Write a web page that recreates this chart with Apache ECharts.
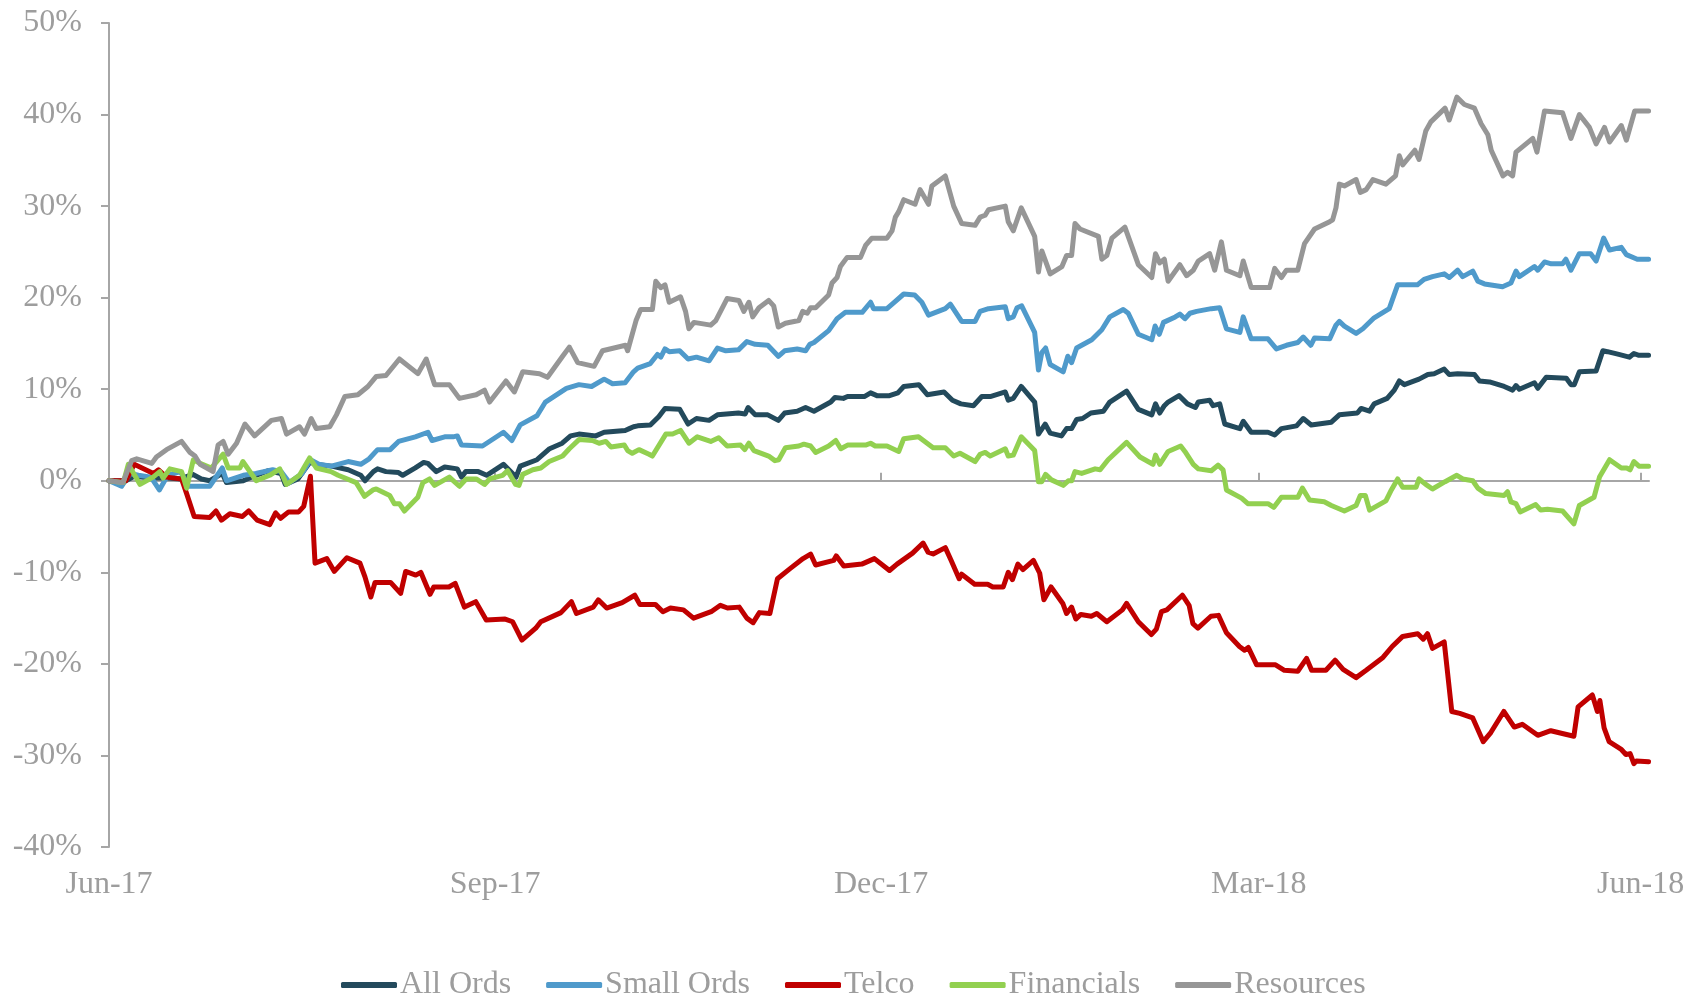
<!DOCTYPE html>
<html>
<head>
<meta charset="utf-8">
<title>Index performance Jun-17 to Jun-18</title>
<script src="https://cdn.jsdelivr.net/npm/echarts@6/dist/echarts.min.js"></script>
<style>
  html, body { margin: 0; padding: 0; background: #fff; }
  #chart { width: 1695px; height: 997px; }
</style>
</head>
<body>
<div id="chart"></div>
<script>
// x = days counted from 30 Jun 2017, y = cumulative return in %
const tickDays = [0, 92, 184, 274, 365];
const tickLabels = ['Jun-17', 'Sep-17', 'Dec-17', 'Mar-18', 'Jun-18'];

const allOrds = [[0,0],[4,0],[6,0.5],[10,0.3],[14,0.3],[17,0.2],[20,0.7],[22,0.2],[24,0],[27,0.8],[28,-0.2],[32,0],[35,0.6],[38,1.1],[41,0.8],[42,-0.4],[45,0.2],[48,2.1],[49,1.8],[53,1.6],[57,1.2],[60,0.6],[61,0],[63,1.0],[64,1.3],[66,1.0],[69,0.9],[70,0.6],[73,1.4],[75,2.0],[76,1.9],[78,1.0],[80,1.5],[83,1.3],[84,0.4],[85,1.0],[88,1.0],[90,0.6],[92,1.2],[94,1.8],[97,0.4],[98,1.6],[102,2.3],[105,3.5],[108,4.1],[110,4.9],[112,5.1],[116,4.9],[118,5.3],[123,5.5],[124,5.7],[125,5.9],[126,6.0],[129,6.1],[131,7.0],[132.5,7.9],[136,7.8],[138,6.2],[140,6.8],[143,6.6],[145,7.2],[150,7.4],[151.6,7.3],[152.3,8.0],[154,7.2],[157,7.2],[159.5,6.6],[161,7.4],[164,7.6],[166,8.0],[168,7.6],[172,8.6],[173,9.1],[175,9.0],[176,9.2],[180,9.2],[181.5,9.6],[183,9.3],[186,9.3],[188,9.6],[189.4,10.3],[193,10.5],[195,9.4],[199,9.7],[201,8.8],[203,8.4],[206,8.2],[208,9.2],[210,9.2],[213.6,9.7],[214.3,8.8],[215.5,9.0],[217.4,10.3],[220.6,8.6],[221.5,5.1],[223.1,6.2],[224.3,5.2],[227,4.9],[228.2,5.7],[229.4,5.7],[230.6,6.7],[232,6.8],[234,7.4],[237,7.6],[238.5,8.6],[242.5,9.8],[245.3,7.8],[248.5,7.2],[249.4,8.4],[250.4,7.4],[251.5,8.2],[252.4,8.6],[255,9.3],[257,8.4],[258.9,8.0],[259.6,8.6],[262.3,8.8],[263.1,8.2],[264.7,8.4],[265.9,6.2],[269.5,5.7],[270.3,6.5],[272.2,5.3],[276.2,5.3],[277.8,5.0],[279.4,5.7],[283,6.0],[284.6,6.8],[286.5,6.1],[291.3,6.4],[293.2,7.2],[297.5,7.4],[298.4,7.9],[300.4,7.6],[301.5,8.4],[304.6,9.0],[306.3,9.9],[307.5,10.9],[308.7,10.5],[312.2,11.1],[314.3,11.6],[315.8,11.7],[318.2,12.2],[319.4,11.6],[321.4,11.7],[325.4,11.6],[326.6,10.9],[329,10.8],[332.5,10.3],[334.5,9.9],[335.3,10.4],[336.1,10.0],[339.7,10.7],[340.5,10.1],[342.5,11.3],[347.3,11.2],[348.4,10.5],[349.2,10.5],[350.4,11.9],[354.4,12.0],[356,14.2],[357.1,14.1],[359.8,13.8],[362.3,13.5],[363.4,13.9],[364.6,13.7],[366.9,13.7]];

const smallOrds = [[0,0],[3,-0.6],[5,0.8],[7,0.6],[10,0.4],[12,-1.0],[14,0.6],[17,1.0],[19,-0.6],[24,-0.6],[27,1.4],[28,0],[32,0.6],[35,0.8],[39,1.2],[41,1.0],[43,-0.2],[46,0.8],[48,2.3],[50,1.8],[53,1.6],[57,2.1],[60,1.8],[62,2.4],[64,3.4],[67,3.4],[69,4.3],[73,4.8],[76,5.3],[77,4.4],[80,4.8],[82,4.8],[83,4.9],[84,3.9],[89,3.8],[94,5.3],[96,4.4],[98,6.1],[102,7.1],[104,8.6],[109,10.1],[112,10.5],[115,10.3],[118,11.1],[120,10.6],[123,10.7],[125,11.9],[126,12.3],[129,12.8],[130.7,13.8],[131.5,13.5],[132.5,14.4],[133.5,14.1],[136,14.2],[138,13.3],[140,13.5],[143,13.1],[145,14.5],[147,14.2],[150,14.3],[152,15.2],[154,14.9],[157,14.8],[159.5,13.6],[161,14.2],[164,14.4],[166,14.2],[167,14.9],[168,15.1],[171.5,16.4],[173.5,17.7],[175.5,18.4],[179.5,18.4],[181.5,19.5],[182.2,18.8],[185.4,18.8],[187.4,19.6],[189.4,20.4],[192,20.3],[193.7,19.5],[195.3,18.1],[199.3,18.8],[200.5,19.3],[203.2,17.4],[206.4,17.4],[207.6,18.5],[209.6,18.8],[213.6,19.0],[214.3,17.7],[215.5,17.9],[216.4,18.9],[217.5,19.1],[220.6,16.2],[221.5,12.1],[222.3,14.0],[223.2,14.5],[224.3,12.7],[227.4,11.9],[228.5,13.6],[229.4,12.9],[230.6,14.5],[234.2,15.4],[236.6,16.5],[238.5,17.9],[241.7,18.7],[242.9,18.3],[245.3,16.0],[248.5,15.4],[249.3,16.9],[250.3,16.0],[251.3,17.3],[254.1,17.9],[255.2,18.2],[256.4,17.7],[257.6,18.3],[259.2,18.5],[262.7,18.8],[264.7,18.9],[266.3,16.6],[269.5,16.2],[270.3,17.9],[272.2,15.5],[276.2,15.5],[278.2,14.4],[280.6,14.8],[283.3,15.1],[284.6,15.7],[286.4,14.8],[287.3,15.6],[290.9,15.5],[292.4,17.0],[293.2,17.4],[294.4,16.9],[297.2,16.1],[298.8,16.6],[301.5,17.8],[305.1,18.8],[307.1,21.4],[311.8,21.4],[313.4,22.0],[315.4,22.3],[318.2,22.6],[319.4,22.2],[321.4,23.0],[322.6,22.3],[325,22.9],[326.2,21.8],[327.8,21.5],[332.1,21.2],[334.1,21.6],[335.3,22.9],[336.1,22.3],[339.7,23.4],[340.5,23.0],[342.1,23.9],[343.7,23.7],[346.4,23.7],[347.2,24.2],[348.4,23.0],[350.4,24.8],[353.1,24.8],[354.4,24.0],[356.2,26.5],[357.6,25.2],[360.4,25.5],[361.6,24.7],[364.2,24.2],[366.9,24.2]];

const telco = [[0,0],[4,0],[6,1.8],[10.6,0.8],[11.8,1.2],[13.7,0.4],[17.3,0.2],[18.5,-1.4],[20.3,-3.9],[24,-4.0],[25.5,-3.3],[26.8,-4.3],[28.8,-3.6],[31.8,-3.9],[33.3,-3.3],[35.3,-4.3],[38.3,-4.8],[39.7,-3.5],[40.9,-4.1],[42.8,-3.4],[45.2,-3.4],[46.4,-2.8],[48,0.5],[49.1,-9.0],[51.9,-8.5],[53.7,-9.9],[56.7,-8.4],[59.8,-9.0],[61,-10.5],[62.4,-12.7],[63.4,-11.1],[67.1,-11.1],[69.5,-12.3],[70.7,-9.9],[73.1,-10.3],[74.3,-10.0],[76.5,-12.4],[77.4,-11.6],[81,-11.6],[82.5,-11.2],[84.7,-13.8],[87.4,-13.2],[89.9,-15.2],[94.4,-15.1],[96.2,-15.4],[98.4,-17.4],[101.7,-16.1],[102.9,-15.4],[107.7,-14.4],[110.2,-13.2],[111.4,-14.5],[115.4,-13.8],[116.6,-13.0],[118.6,-13.9],[122.3,-13.3],[125.3,-12.5],[126.5,-13.5],[130.2,-13.5],[132,-14.3],[133.8,-13.9],[136.9,-14.1],[139.3,-15.0],[143.5,-14.3],[145.7,-13.6],[147.4,-13.9],[150.2,-13.8],[152,-15.0],[153.5,-15.5],[155,-14.4],[157.5,-14.5],[159.3,-10.7],[162.3,-9.6],[165.4,-8.5],[167.2,-8.0],[168.4,-9.2],[172.7,-8.7],[173.3,-8.2],[175.1,-9.3],[179.4,-9.1],[182.4,-8.5],[186,-9.8],[187.8,-9.1],[191.5,-7.9],[194,-6.8],[195.2,-7.8],[196.4,-8.0],[199.3,-7.3],[200.7,-8.7],[202.6,-10.7],[203.2,-10.2],[206.3,-11.3],[209.4,-11.3],[210.6,-11.6],[213.1,-11.6],[214.3,-10.0],[215.3,-10.8],[216.6,-9.1],[217.8,-9.7],[220.3,-8.7],[221.8,-10.1],[222.8,-13.0],[224.5,-11.6],[227.3,-13.4],[228.2,-14.5],[229.4,-13.8],[230.4,-15.1],[231.6,-14.6],[234.1,-14.8],[235.4,-14.5],[237.8,-15.4],[241.5,-14.1],[242.5,-13.4],[245.3,-15.4],[248.4,-16.8],[249.6,-16.2],[250.8,-14.3],[252.1,-14.1],[255.8,-12.5],[257.4,-13.6],[258.3,-15.6],[259.5,-16.1],[262.6,-14.8],[264.4,-14.7],[266.3,-16.6],[269.4,-18.1],[270.6,-18.5],[271.5,-18.2],[273.5,-20.1],[278,-20.1],[280.1,-20.7],[283.3,-20.8],[285.4,-19.4],[286.6,-20.7],[290,-20.7],[292.2,-19.6],[294.1,-20.6],[297.2,-21.5],[299.6,-20.7],[303.6,-19.3],[305.8,-18.1],[308.3,-17.0],[311.9,-16.7],[313.2,-17.3],[314.2,-16.7],[315.4,-18.3],[318.2,-17.6],[320,-25.2],[321.9,-25.4],[325,-25.9],[327.5,-28.5],[329.3,-27.5],[332.4,-25.2],[334.9,-26.9],[336.8,-26.6],[340.5,-27.8],[343.6,-27.3],[349.1,-27.9],[350.1,-24.7],[353.5,-23.4],[354.7,-25.2],[355.3,-24.0],[356.3,-27.0],[357.5,-28.5],[360.3,-29.3],[361.5,-29.9],[362.5,-29.8],[363.4,-30.9],[364,-30.6],[366.9,-30.7]];

const financials = [[0,0],[3.4,-0.2],[4.6,1.8],[7.4,-0.4],[10.5,0.4],[12.1,1.0],[12.9,0.3],[14.5,1.3],[17.3,1.0],[18.5,-0.8],[20.1,2.3],[21.7,1.9],[24.4,1.4],[27.2,2.9],[28.4,1.4],[31.2,1.4],[31.9,2.1],[35.1,0],[38.3,0.6],[40.7,1.3],[42.3,-0.4],[45.4,0.6],[47.8,2.5],[49.4,1.4],[52.9,1.0],[54.6,0.6],[58.9,-0.2],[60.9,-1.7],[62.9,-1.0],[63.7,-0.9],[66.9,-1.6],[68,-2.5],[69.2,-2.5],[70.4,-3.3],[73.6,-1.8],[74.8,-0.2],[76.4,0.2],[77.6,-0.5],[81.1,0.4],[83.5,-0.6],[85.1,0.2],[87.5,0.2],[89.5,-0.4],[90.7,0.2],[93.8,0.6],[95,1.1],[96.9,-0.4],[97.7,-0.5],[98.6,0.7],[101,1.2],[102.9,1.4],[104.9,2.1],[108.1,2.7],[109.7,3.5],[112,4.5],[115.2,4.4],[116.8,4.1],[118.4,4.3],[119.6,3.7],[122.8,3.9],[123.6,3.3],[124.7,3.0],[126.3,3.4],[128.7,2.9],[129.5,2.7],[132.7,5.1],[134.3,5.1],[136.2,5.5],[138.2,4.1],[140.2,4.8],[143.4,4.3],[145.3,4.7],[147.3,3.8],[150.5,3.9],[151.5,3.4],[152.5,4.1],[153.7,3.3],[157.2,2.7],[158.7,2.2],[159.6,2.3],[161.2,3.6],[164.4,3.8],[165.6,4.0],[167.2,3.8],[168.4,3.1],[171.5,3.8],[173.2,4.4],[174.4,3.5],[176,3.9],[180.3,3.9],[181.5,4.1],[182.6,3.8],[185.4,3.8],[188.2,3.2],[189.4,4.6],[192.9,4.8],[196.4,3.6],[199.3,3.6],[201.3,2.7],[202.8,3.0],[206.4,2.1],[207.6,2.9],[208.8,3.1],[210,2.7],[213.6,3.5],[214.3,2.7],[215.5,2.8],[217.4,4.8],[220.6,3.3],[221.5,-0.1],[222.3,-0.1],[223.2,0.7],[224.6,0.1],[227.4,-0.5],[228.6,0],[229.4,0],[230.2,1.0],[231.8,0.8],[235,1.3],[236.2,1.2],[238.1,2.3],[242.5,4.2],[245.7,2.6],[248.8,1.8],[249.4,2.8],[250.4,1.8],[252.4,3.2],[255.4,3.8],[256.4,3.2],[258.4,1.8],[259.6,1.3],[262.7,1.1],[264.3,1.7],[265.5,1.2],[266.3,-1.0],[269.9,-1.9],[271.4,-2.5],[276.2,-2.5],[277.6,-2.9],[279.4,-1.8],[283.3,-1.8],[284.4,-0.8],[286.1,-2.1],[289.6,-2.3],[291.3,-2.7],[294.4,-3.3],[297.2,-2.7],[298.2,-1.6],[299.4,-1.6],[300.4,-3.2],[304.3,-2.2],[305.6,-1.0],[307.1,0.2],[308.3,-0.7],[311.5,-0.7],[312.2,0.2],[313.8,-0.4],[315.4,-0.9],[318.4,-0.1],[321.2,0.6],[322.6,0.2],[325,0],[326.2,-0.8],[328.1,-1.4],[332.5,-1.6],[333.3,-1.2],[334.1,-2.3],[335.3,-2.5],[336.3,-3.4],[340,-2.6],[341.2,-3.2],[342.8,-3.1],[346.4,-3.3],[349.1,-4.7],[350.4,-2.7],[353.9,-1.8],[355.2,0.4],[357.6,2.3],[360.4,1.4],[361.7,1.4],[362.5,1.2],[363.4,2.1],[364.6,1.6],[366.9,1.6]];

const resources = [[0,0],[3.3,-0.2],[5.4,2.2],[6.6,2.4],[10.2,1.9],[11.3,2.6],[13.7,3.4],[17.3,4.3],[19.3,3.1],[20.5,2.7],[21.7,1.8],[24.8,1.0],[26,3.9],[27.2,4.3],[28.4,2.9],[30.4,4.1],[32.4,6.2],[34.7,4.9],[38.7,6.6],[41.1,6.8],[42.3,5.1],[45.4,5.9],[46.6,5.1],[48.2,6.8],[49.4,5.7],[52.6,5.9],[54.2,7.2],[56.2,9.2],[59.3,9.4],[61.7,10.3],[63.7,11.4],[66,11.5],[69.2,13.3],[73.6,11.7],[75.6,13.3],[77.6,10.5],[81.1,10.5],[83.5,9.0],[87.5,9.4],[89.5,9.9],[90.7,8.6],[94.6,10.9],[96.6,9.7],[98.6,11.9],[102.6,11.7],[104.5,11.3],[108.1,13.6],[109.7,14.6],[111.7,12.9],[115.6,12.5],[117.6,14.2],[123.1,14.8],[123.6,14.2],[125.6,17.5],[126.7,18.7],[129.5,18.7],[130.3,21.8],[131.5,21.1],[132.5,21.4],[133.5,19.5],[136.2,20.1],[137.4,18.5],[138.2,16.6],[139.4,17.3],[143.4,17.0],[144.6,17.5],[147.3,19.9],[150.1,19.7],[151.3,18.5],[152.5,19.5],[153.4,17.9],[154.9,18.9],[157.2,19.7],[158.4,19.1],[159.5,16.8],[161.2,17.2],[164.4,17.5],[165.3,18.5],[166.4,18.3],[167.2,18.9],[168.4,18.9],[171.5,20.3],[172.3,21.6],[173.5,22.2],[174.3,23.4],[175.9,24.4],[179.1,24.4],[180.3,25.7],[181.8,26.5],[185.4,26.5],[186.6,27.3],[187.4,28.8],[188.2,29.4],[189.4,30.7],[192.1,30.2],[193.3,31.8],[195.3,30.2],[196.1,32.2],[199.3,33.3],[201.3,30.0],[203.2,28.1],[206.4,27.9],[207.6,28.8],[208.8,29.0],[209.6,29.6],[213.6,30.0],[214.3,28.3],[215.5,27.3],[217.4,29.8],[220.6,26.7],[221.5,22.8],[222.3,25.1],[224.3,22.6],[227.1,23.4],[228.2,24.6],[229.4,24.6],[230.2,28.1],[231.4,27.5],[235.8,26.7],[236.6,24.2],[237.8,24.6],[239,26.5],[242.1,27.7],[245.3,23.6],[248.5,22.2],[249.4,24.8],[250.4,23.8],[251.5,24.2],[252.4,21.8],[255.2,23.6],[256.8,22.4],[258.4,23.0],[259.6,24.0],[262.3,24.8],[263.5,23.0],[265.1,26.1],[266.3,23.0],[269.5,22.4],[270.3,24.0],[272.2,21.1],[276.6,21.1],[277.8,23.2],[279.4,22.2],[280.6,23.0],[283.3,23.0],[284.9,25.9],[287.3,27.5],[290.9,28.3],[291.6,28.5],[292.4,29.8],[293.2,32.4],[294.4,32.2],[297.2,32.9],[298.2,31.5],[299.6,31.8],[301.2,32.9],[304.3,32.4],[306.6,33.3],[307.5,35.5],[308.3,34.5],[311.2,36.1],[312.2,35.1],[313.8,38.2],[315,39.2],[318.4,40.7],[319.4,39.4],[321.2,41.9],[323,41.1],[325.4,40.7],[327,39.0],[328.6,37.8],[329.4,36.1],[330.6,34.9],[332.2,33.3],[333.3,33.7],[334.5,33.3],[335.3,35.9],[339.3,37.4],[340.3,35.9],[342.1,40.4],[346.4,40.2],[348.4,37.4],[350.4,40.0],[352.8,38.6],[354.4,36.8],[356.4,38.6],[357.6,37.0],[360.4,38.8],[361.6,37.2],[363.6,40.4],[366.9,40.4]];

const names = ['All Ords', 'Small Ords', 'Telco', 'Financials', 'Resources'];
const colors = ['#234a5c', '#4f9acb', '#c00000', '#92d050', '#969696'];
const values = [allOrds, smallOrds, telco, financials, resources];

const grey = '#9d9d9d';
const axisGrey = '#a6a6a6';
const font = 'Liberation Serif';

const chart = echarts.init(document.getElementById('chart'));

const option = {
  animation: false,
  backgroundColor: '#ffffff',
  grid: { left: 109, right: 46, top: 23, bottom: 150 },
  legend: {
    data: names,
    left: 336,
    top: 964,
    icon: 'roundRect',
    itemWidth: 56,
    itemHeight: 6,
    itemGap: 35,
    textStyle: { color: grey, fontFamily: font, fontSize: 32, padding: [0, 0, 0, -2] }
  },
  xAxis: [
    {
      // labels along the bottom
      type: 'value', min: 0, max: 367,
      axisLine: { show: false, onZero: false },
      axisTick: { show: false },
      splitLine: { show: false },
      axisLabel: {
        customValues: tickDays,
        formatter: v => tickLabels[tickDays.indexOf(v)],
        color: grey, fontFamily: font, fontSize: 32, margin: 22
      }
    },
    {
      // line and ticks sitting on 0%
      type: 'value', min: 0, max: 367,
      axisLine: { show: true, onZero: true, lineStyle: { color: axisGrey, width: 2 } },
      axisTick: { show: true, customValues: tickDays, length: 8, lineStyle: { color: axisGrey, width: 2 } },
      axisLabel: { show: false },
      splitLine: { show: false }
    }
  ],
  yAxis: {
    type: 'value', min: -40, max: 50, interval: 10,
    axisLine: { show: true, lineStyle: { color: axisGrey, width: 2 } },
    axisTick: { show: true, length: 8, lineStyle: { color: axisGrey, width: 2 } },
    splitLine: { show: false },
    axisLabel: { formatter: '{value}%', color: grey, fontFamily: font, fontSize: 32, margin: 27 }
  },
  series: names.map((name, i) => ({
    name: name,
    type: 'line',
    xAxisIndex: 0,
    data: values[i],
    showSymbol: false,
    symbol: 'none',
    color: colors[i],
    lineStyle: { width: 5, color: colors[i], cap: 'round', join: 'round' }
  }))
};

chart.setOption(option);
</script>
</body>
</html>
